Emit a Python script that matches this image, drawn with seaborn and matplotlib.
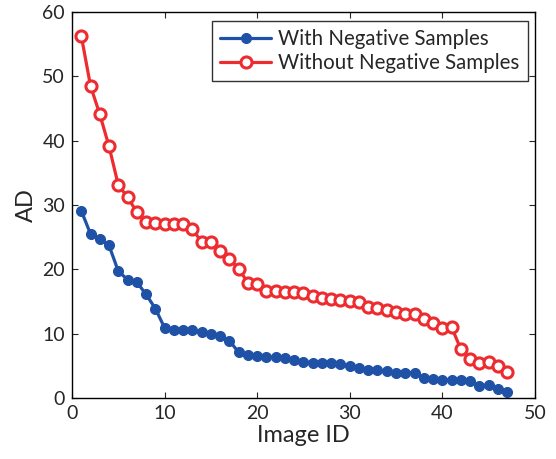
import numpy as np
import pandas as pd
import matplotlib
matplotlib.use("Agg")
import matplotlib.pyplot as plt
import seaborn as sns

image_id = list(range(1, 48))
with_neg = [29.1, 25.5, 24.7, 23.7, 19.7, 18.4, 18.0, 16.1, 13.9, 10.9,
            10.5, 10.5, 10.5, 10.2, 9.9, 9.7, 8.9, 7.1, 6.7, 6.5,
            6.4, 6.3, 6.2, 5.9, 5.6, 5.5, 5.4, 5.4, 5.2, 4.9,
            4.6, 4.4, 4.3, 4.2, 3.9, 3.9, 3.9, 3.1, 3.0, 2.8,
            2.8, 2.8, 2.7, 1.9, 2.0, 1.4, 0.9]
without_neg = [56.3, 48.5, 44.1, 39.1, 33.1, 31.2, 28.9, 27.4, 27.2, 27.1,
               27.1, 27.1, 26.2, 24.3, 24.2, 22.8, 21.6, 20.1, 17.9, 17.7,
               16.7, 16.6, 16.5, 16.4, 16.3, 15.8, 15.6, 15.4, 15.2, 15.0,
               14.9, 14.1, 14.0, 13.6, 13.4, 13.1, 13.0, 12.2, 11.7, 10.9,
               11.0, 7.6, 6.1, 5.5, 5.6, 5.0, 4.1]
series_names = ["With Negative Samples", "Without Negative Samples"]

df = pd.DataFrame({
    "Image ID": image_id * 2,
    "AD": with_neg + without_neg,
    "Series": [series_names[0]] * len(image_id) + [series_names[1]] * len(image_id),
})

sns.set_style("ticks")
plt.rcParams["font.family"] = ["Lato", "DejaVu Sans"]

fig = plt.figure(figsize=(5.56, 4.59), dpi=100)
ax = fig.add_axes([0.1295, 0.133, 0.8325, 0.841])

blue = "#1f52a6"
red = "#ee2b2f"

sns.lineplot(data=df[df["Series"] == series_names[0]], x="Image ID", y="AD",
             color=blue, linewidth=2.3, marker="o", markersize=7.2,
             markeredgecolor=blue, markerfacecolor=blue, label=series_names[0], ax=ax)
sns.lineplot(data=df[df["Series"] == series_names[1]], x="Image ID", y="AD",
             color=red, linewidth=2.3, marker="o", markersize=8,
             markeredgecolor=red, markerfacecolor="white", markeredgewidth=2.2,
             label=series_names[1], ax=ax)

ax.set_xlim(0, 50)
ax.set_ylim(0, 60)
ax.set_xticks(range(0, 51, 10))
ax.set_yticks(range(0, 61, 10))
ax.tick_params(direction="in", top=True, right=True, labelsize=14, length=4, width=0.8, pad=5)
for s in ax.spines.values():
    s.set_visible(True)
    s.set_linewidth(1.0)
    s.set_color("black")
ax.set_xlabel("Image ID", fontsize=17, labelpad=2)
ax.set_ylabel("AD", fontsize=17, labelpad=4)

leg = ax.legend(loc="upper right", fontsize=14.8, frameon=True, fancybox=False,
                edgecolor="black", handlelength=2.5, borderpad=0.4,
                labelspacing=0.2, handletextpad=0.35, borderaxespad=0.0,
                bbox_to_anchor=(0.985, 0.977))
leg.get_frame().set_linewidth(1.0)

fig.savefig("out.png", dpi=100)
